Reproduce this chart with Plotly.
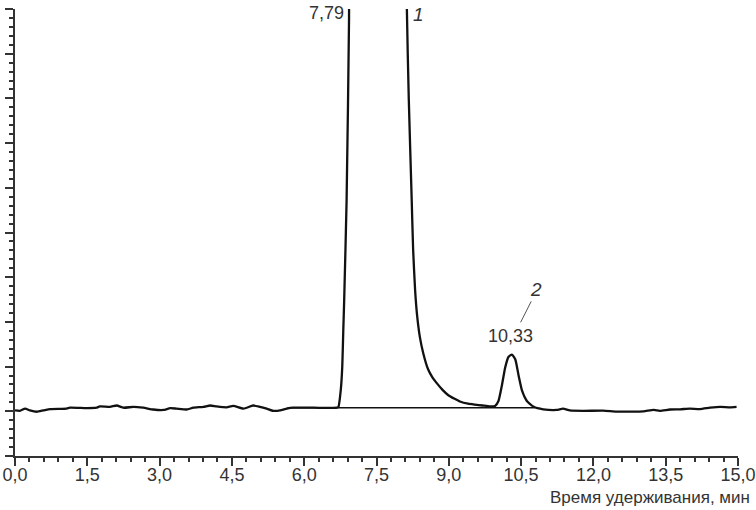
import plotly.graph_objects as go

# Chromatogram trace (time in min, detector signal in axis units)
base_left_t = [0.00, 0.10, 0.21, 0.31, 0.45, 0.59, 0.73, 1.07, 1.14, 1.49, 1.69, 1.76, 1.97,
               2.11, 2.25, 2.46, 2.66, 2.87, 3.08, 3.22, 3.35, 3.56, 3.70, 3.91, 4.05, 4.18,
               4.39, 4.53, 4.74, 4.94, 5.08, 5.22, 5.36, 5.50, 5.64, 5.77, 6.20, 6.68]
base_left_v = [0.02, 0.01, 0.06, 0.02, -0.01, 0.02, 0.05, 0.06, 0.08, 0.07, 0.08, 0.11, 0.10,
               0.13, 0.08, 0.10, 0.08, 0.04, 0.03, 0.07, 0.06, 0.04, 0.08, 0.10, 0.13, 0.11,
               0.09, 0.12, 0.06, 0.13, 0.10, 0.06, 0.01, 0.02, 0.06, 0.08, 0.08, 0.08]

# solvent peak (off scale, apex at 7,79)
peak1_t = [6.71, 6.76, 6.79, 6.81, 6.83, 6.88, 6.93, 6.94, 7.10, 7.79, 8.05, 8.12,
           8.13, 8.17, 8.23, 8.26, 8.30, 8.34, 8.40, 8.47, 8.57, 8.66, 8.75, 8.87,
           8.99, 9.12, 9.23, 9.40, 9.54, 9.70, 9.85]
peak1_v = [0.10, 0.49, 1.01, 1.77, 2.51, 4.74, 8.77, 12.0, 30.0, 45.0, 30.0, 12.0,
           9.00, 6.98, 4.74, 3.62, 2.73, 2.17, 1.66, 1.30, 0.94, 0.76, 0.63, 0.48,
           0.36, 0.28, 0.22, 0.17, 0.15, 0.13, 0.11]

# peak 2 (10,33)
peak2_t = [9.96, 10.03, 10.10, 10.17, 10.24, 10.31, 10.38, 10.45, 10.52, 10.62, 10.76]
peak2_v = [0.12, 0.23, 0.57, 0.98, 1.22, 1.27, 1.16, 0.79, 0.46, 0.23, 0.10]

base_right_t = [10.96, 11.24, 11.37, 11.51, 11.79, 12.20, 12.48, 12.76, 13.04, 13.25, 13.38,
                13.59, 13.80, 14.00, 14.21, 14.42, 14.63, 14.83, 14.97]
base_right_v = [0.045, 0.03, 0.06, 0.02, 0.01, 0.015, -0.007, -0.007, 0.0, 0.03, 0.01,
                0.04, 0.045, 0.06, 0.05, 0.08, 0.10, 0.09, 0.10]

# drawn integration baseline under the peaks
int_base_t = [5.65, 10.78]
int_base_v = [0.08, 0.08]

x_ticks = [0, 1.5, 3, 4.5, 6, 7.5, 9, 10.5, 12, 13.5, 15]

time = base_left_t + peak1_t + peak2_t + base_right_t
signal = base_left_v + peak1_v + peak2_v + base_right_v

FONT = "Liberation Sans, Arial, sans-serif"
INK = "#111111"
TXT = "#333333"

fig = go.Figure()
fig.add_trace(go.Scatter(x=int_base_t, y=int_base_v, mode="lines",
                         line=dict(color=INK, width=1.6), hoverinfo="skip"))
fig.add_trace(go.Scatter(x=time, y=signal, mode="lines",
                         line=dict(color=INK, width=2.3, shape="spline", smoothing=0.5)))

# peak labels
fig.add_annotation(x=6.87, y=8.9, text="7,79", showarrow=False, xanchor="right",
                   font=dict(size=18, color=TXT))
fig.add_annotation(x=8.38, y=8.88, text="<i>1</i>", showarrow=False,
                   font=dict(size=19, color=TXT))
fig.add_annotation(x=10.29, y=1.68, text="10,33", showarrow=False,
                   font=dict(size=18, color=TXT))
fig.add_annotation(x=10.81, y=2.72, text="<i>2</i>", showarrow=False,
                   font=dict(size=19, color=TXT))
fig.add_shape(type="line", x0=10.71, y0=2.46, x1=10.49, y1=1.99,
              line=dict(color="#555555", width=1))

fig.add_annotation(x=1.019, y=0, xref="paper", yref="paper", yshift=-41,
                   text="Время удерживания, мин", showarrow=False,
                   xanchor="right", yanchor="middle",
                   font=dict(size=17, color=TXT))

fig.update_xaxes(range=[0, 15], tickvals=x_ticks, tickformat=".1f",
                 ticks="outside", ticklen=8, tickwidth=1.5, tickcolor="#333333",
                 minor=dict(dtick=0.3, tick0=0, ticks="outside", ticklen=4,
                            tickwidth=1.5, tickcolor="#333333"),
                 showline=True, linecolor="#333333", linewidth=2,
                 showgrid=False, zeroline=False, automargin=False,
                 ticklabelstandoff=-7,
                 tickfont=dict(size=18, color=TXT))
fig.update_yaxes(range=[-1, 9], dtick=1, tick0=0, showticklabels=False,
                 ticks="outside", ticklen=8, tickwidth=1.5, tickcolor="#333333",
                 minor=dict(dtick=0.2, tick0=0, ticks="outside", ticklen=4,
                            tickwidth=1.5, tickcolor="#333333"),
                 showline=True, linecolor="#333333", linewidth=2,
                 showgrid=False, zeroline=False, automargin=False)

fig.update_layout(width=756, height=510, showlegend=False,
                  margin=dict(l=15, r=18, t=9, b=54),
                  separators=", ",
                  plot_bgcolor="#FFFFFF", paper_bgcolor="#FFFFFF",
                  font=dict(family=FONT, color=TXT))

# the page's default body margin would shift the 756x510 figure
fig.write_html("out.html", config={"displayModeBar": False},
               post_script="document.body.style.margin='0';"
                           "document.body.style.overflow='hidden';")
